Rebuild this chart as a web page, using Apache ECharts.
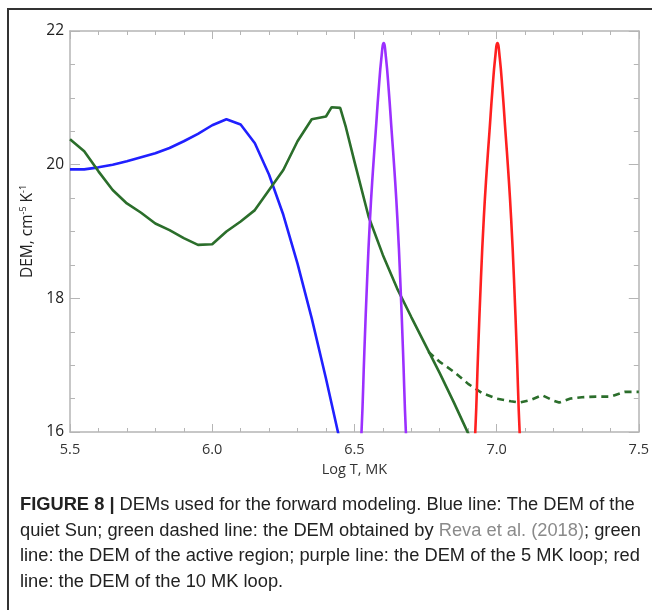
<!DOCTYPE html>
<html>

<head>
    <meta charset="utf-8">
    <script src="https://cdn.jsdelivr.net/npm/echarts@6/dist/echarts.min.js"></script>
</head>

<body style="margin:0;background:#fff;">
    <div id="main" style="width:652px;height:610px;"></div>

    <script>
        // quiet Sun (blue)
        var blueT = [5.50, 5.55, 5.60, 5.65, 5.70, 5.75, 5.80, 5.85, 5.90, 5.95, 6.00, 6.05, 6.10, 6.15, 6.20, 6.25, 6.30, 6.35, 6.40, 6.45];
        var blueDEM = [19.93, 19.93, 19.96, 20.00, 20.05, 20.11, 20.17, 20.25, 20.35, 20.46, 20.59, 20.68, 20.60, 20.32, 19.85, 19.25, 18.52, 17.70, 16.80, 15.85];

        // active region (green solid)
        var greenT = [5.50, 5.55, 5.60, 5.65, 5.70, 5.75, 5.80, 5.85, 5.90, 5.95, 6.00, 6.05, 6.10, 6.15, 6.20, 6.25, 6.30, 6.35, 6.40, 6.42, 6.45, 6.47, 6.50, 6.55, 6.60, 6.65, 6.70, 6.75, 6.80, 6.85, 6.90, 6.95];
        var greenDEM = [20.38, 20.20, 19.90, 19.62, 19.42, 19.28, 19.12, 19.02, 18.90, 18.80, 18.81, 19.00, 19.15, 19.32, 19.62, 19.92, 20.35, 20.68, 20.72, 20.86, 20.85, 20.56, 20.05, 19.22, 18.65, 18.15, 17.72, 17.30, 16.88, 16.44, 15.98, 15.50];

        // Reva et al. (2018) (green dashed)
        var revaT = [6.76, 6.80, 6.85, 6.90, 6.95, 7.00, 7.05, 7.08, 7.12, 7.16, 7.20, 7.22, 7.26, 7.30, 7.35, 7.40, 7.45, 7.50];
        var revaDEM = [17.20, 17.05, 16.90, 16.72, 16.58, 16.50, 16.46, 16.44, 16.48, 16.55, 16.47, 16.44, 16.50, 16.52, 16.53, 16.53, 16.60, 16.60];

        // 5 MK loop (purple)
        var purpleT = [6.518, 6.525, 6.535, 6.545, 6.555, 6.565, 6.575, 6.585, 6.595, 6.603, 6.611, 6.621, 6.631, 6.641, 6.651, 6.661, 6.671, 6.681, 6.688];
        var purpleDEM = [15.6, 16.0, 17.2, 18.3, 19.2, 19.9, 20.5, 21.1, 21.6, 21.82, 21.6, 21.1, 20.5, 19.9, 19.2, 18.3, 17.2, 16.0, 15.6];

        // 10 MK loop (red)
        var redT = [6.918, 6.925, 6.935, 6.945, 6.955, 6.965, 6.975, 6.985, 6.995, 7.003, 7.011, 7.021, 7.031, 7.041, 7.051, 7.061, 7.071, 7.081, 7.088];
        var redDEM = [15.6, 16.0, 17.2, 18.3, 19.2, 19.9, 20.5, 21.1, 21.6, 21.82, 21.6, 21.1, 20.5, 19.9, 19.2, 18.3, 17.2, 16.0, 15.6];

        var captionLines = [
            '{b|FIGURE 8 |} DEMs used for the forward modeling. Blue line: The DEM of the',
            'quiet Sun; green dashed line: the DEM obtained by {g|Reva et al. (2018)}; green',
            'line: the DEM of the active region; purple line: the DEM of the 5 MK loop; red',
            'line: the DEM of the 10 MK loop.'
        ];

        function zip(xs, ys) {
            return xs.map(function (x, i) { return [x, ys[i]]; });
        }

        var axisGray = '#b5b5b5';
        var labelFont = 'Open Sans';
        var capSize = 18.3;

        function xAx(pos, showLabel) {
            return {
                type: 'value', position: pos, min: 5.5, max: 7.5, interval: 0.5,
                axisLine: { lineStyle: { color: axisGray, width: 1.5 } },
                axisTick: { inside: true, length: 8, lineStyle: { color: axisGray } },
                minorTick: { show: true, splitNumber: 5, length: 4, lineStyle: { color: axisGray } },
                splitLine: { show: false },
                axisLabel: {
                    show: showLabel, margin: 10, color: '#333', fontSize: 14.5, fontFamily: labelFont,
                    formatter: function (v) { return v.toFixed(1); }
                }
            };
        }

        function yAx(pos, showLabel) {
            return {
                type: 'value', position: pos, min: 16, max: 22, interval: 2,
                axisLine: { show: true, lineStyle: { color: axisGray, width: 1.5 } },
                axisTick: { show: true, inside: true, length: 10, lineStyle: { color: axisGray } },
                minorTick: { show: true, splitNumber: 4, length: 5, lineStyle: { color: axisGray } },
                splitLine: { show: false },
                axisLabel: { show: showLabel, margin: 6, color: '#222', fontSize: 15.5, fontFamily: labelFont }
            };
        }

        var xBottom = xAx('bottom', true);
        xBottom.name = 'Log T, MK';
        xBottom.nameLocation = 'middle';
        xBottom.nameGap = 30;
        xBottom.nameTextStyle = { color: '#333', fontSize: 14.5, fontFamily: labelFont };

        var yLeft = yAx('left', true);
        yLeft.name = 'DEM, cm{s|-5} K{s|-1}';
        yLeft.nameLocation = 'middle';
        yLeft.nameGap = 28;
        yLeft.nameTextStyle = {
            color: '#222', fontSize: 15.5, fontFamily: labelFont,
            rich: { s: { fontSize: 9, fontFamily: labelFont, color: '#222', verticalAlign: 'top', padding: [0, 0, 7, 0] } }
        };

        function line(data, color, dashed) {
            return {
                type: 'line', data: data, symbol: 'none', clip: true, xAxisIndex: 0, yAxisIndex: 0,
                lineStyle: { color: color, width: 2.6, type: dashed ? [7, 5] : 'solid' }
            };
        }

        var purpleSeries = line(zip(purpleT, purpleDEM), '#9b30ff');
        purpleSeries.smooth = true;
        var redSeries = line(zip(redT, redDEM), '#ff2020');
        redSeries.smooth = true;

        var captionGraphics = captionLines.map(function (t, i) {
            return {
                type: 'text', left: 20, top: 496 + i * 25.7,
                style: {
                    text: t, fill: '#222', fontSize: capSize, fontFamily: 'Liberation Sans',
                    rich: {
                        b: { fontWeight: 'bold', fontSize: capSize, fontFamily: 'Liberation Sans', fill: '#222' },
                        g: { fontSize: capSize, fontFamily: 'Liberation Sans', fill: '#8a8a8a' }
                    }
                }
            };
        });

        var myChart = echarts.init(document.getElementById('main'));
        var option = {
            backgroundColor: '#fff',
            animation: false,
            grid: { left: 70, right: 12, top: 31, bottom: 178 },
            xAxis: [xBottom, xAx('top', false)],
            yAxis: [yLeft, yAx('right', false)],
            series: [
                line(zip(blueT, blueDEM), '#2020ff'),
                line(zip(greenT, greenDEM), '#2b6e2b'),
                line(zip(revaT, revaDEM), '#2b6e2b', true),
                purpleSeries,
                redSeries
            ],
            graphic: [
                {
                    type: 'polyline', silent: true,
                    shape: { points: [[8, 610], [8, 9], [652, 9]] },
                    style: { stroke: '#333', lineWidth: 2, fill: null }
                }
            ].concat(captionGraphics)
        };

        myChart.setOption(option);
    </script>
</body>

</html>
